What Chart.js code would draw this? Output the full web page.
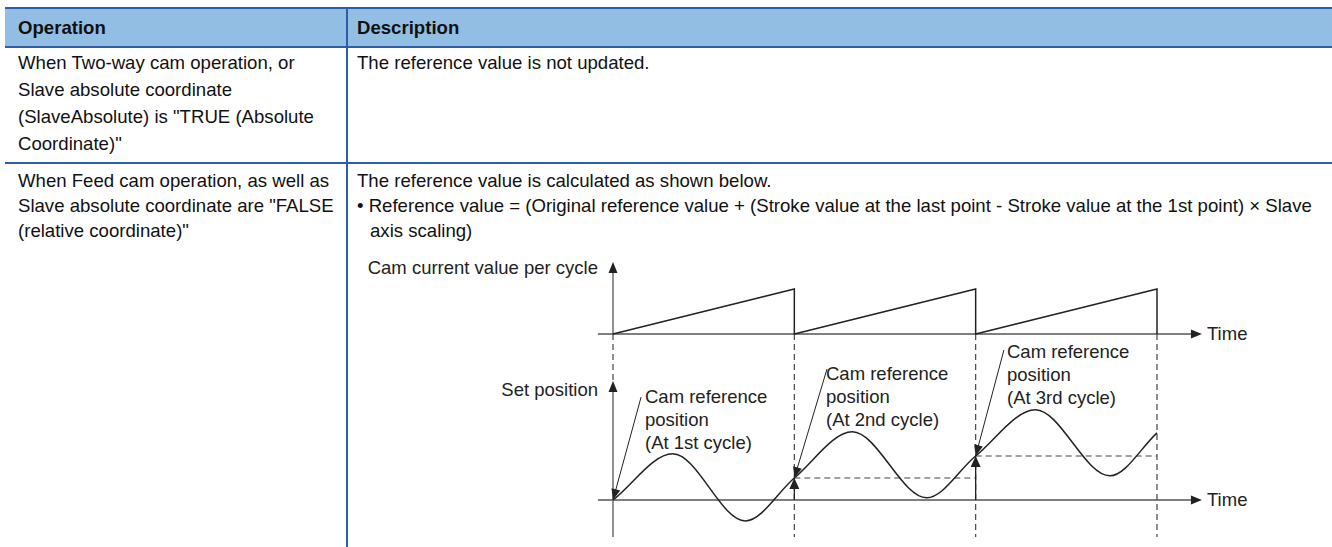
<!DOCTYPE html>
<html>
<head>
<meta charset="utf-8">
<script src="https://cdn.jsdelivr.net/npm/chart.js@4.4.1/dist/chart.umd.min.js"></script>
<style>
body { margin: 0; background: #fff; }
#page { position: relative; width: 1332px; height: 547px; overflow: hidden; font-family: "Liberation Sans", Arial, sans-serif; color: #111; }
.rule { position: absolute; background: #2d5ca8; }
.txt { position: absolute; font-size: 18.6px; white-space: nowrap; }
.head { font-weight: bold; line-height: 37px; top: 9px; }
.lbl { position: absolute; font-size: 18.5px; line-height: 23px; color: #222; white-space: nowrap; }
#diagram { position: absolute; left: 560px; top: 250px; }
</style>
</head>
<body>
<div id="page">
  <div style="position:absolute;left:5px;top:9px;width:1327px;height:37px;background:#92bee3"></div>
  <div class="rule" style="left:5px;top:7px;width:1327px;height:2px"></div>
  <div class="rule" style="left:5px;top:46px;width:1327px;height:2px"></div>
  <div class="rule" style="left:5px;top:162px;width:1327px;height:2px"></div>
  <div class="rule" style="left:346px;top:9px;width:2px;height:538px"></div>

  <div class="txt head" style="left:18px">Operation</div>
  <div class="txt head" style="left:357px">Description</div>

  <div class="txt" style="left:18px;top:49px;line-height:27px">When Two-way cam operation, or<br>Slave absolute coordinate<br>(SlaveAbsolute) is "TRUE (Absolute<br>Coordinate)"</div>
  <div class="txt" style="left:357px;top:49px;line-height:27px">The reference value is not updated.</div>

  <div class="txt" style="left:18px;top:168px;line-height:25px">When Feed cam operation, as well as<br>Slave absolute coordinate are "FALSE<br>(relative coordinate)"</div>
  <div class="txt" style="left:357px;top:168px;line-height:25px">The reference value is calculated as shown below.<br>• Reference value = (Original reference value + (Stroke value at the last point - Stroke value at the 1st point) × Slave<br><span style="padding-left:13px">axis scaling)</span></div>

  <div class="lbl" style="right:734px;top:256px">Cam current value per cycle</div>
  <div class="lbl" style="right:734px;top:378px">Set position</div>
  <div class="lbl" style="left:1207px;top:322px">Time</div>
  <div class="lbl" style="left:1207px;top:488px">Time</div>
  <div class="lbl" style="left:645px;top:385px">Cam reference<br>position<br>(At 1st cycle)</div>
  <div class="lbl" style="left:826px;top:362px">Cam reference<br>position<br>(At 2nd cycle)</div>
  <div class="lbl" style="left:1007px;top:340px">Cam reference<br>position<br>(At 3rd cycle)</div>

  <canvas id="diagram" width="680" height="297"></canvas>
</div>

<script>
// time in cam cycles
const cycleMarks = [0, 1, 2, 3];

// cam current value per cycle (sawtooth, 0..1 of stroke)
const camTime = [0, 1, 1, 2, 2, 3, 3];
const camValue = [0, 1, 0, 1, 0, 1, 0];

// set position, in strokes
const setTime = [0, 0.33, 0.73, 1, 1.32, 1.73, 2, 2.33, 2.74, 3];
const setValue = [0, 2.1, -0.95, 1, 3.1, 0.1, 2, 4.1, 1.1, 3.05];

// cam reference position at start of 2nd and 3rd cycle
const refCycle = [1, 2];
const refValue = [1, 2];

// layout (canvas pixels)
const W = 680, H = 297;
const X0 = 53, XPX = 181.33;
const CAM0 = 84, CAMPX = 45;
const SET0 = 250, SETPX = 22;

const axisLeft = -0.083, axisRight = 3.248;
const camAxisTop = 1.6, setAxisTop = 5.41, setAxisBottom = -1.68;
const labelFrom = [[0.155, 4.68], [1.18, 5.95], [2.156, 6.82]];

function line(ctx, x1, y1, x2, y2, color, width, dash) {
    ctx.save();
    ctx.strokeStyle = color;
    ctx.lineWidth = width;
    ctx.setLineDash(dash || []);
    ctx.beginPath();
    ctx.moveTo(x1, y1);
    ctx.lineTo(x2, y2);
    ctx.stroke();
    ctx.restore();
}

function head(ctx, tx, ty, fx, fy, len, half, color) {
    let a = Math.atan2(ty - fy, tx - fx);
    ctx.save();
    ctx.fillStyle = color;
    ctx.translate(tx, ty);
    ctx.rotate(a);
    ctx.beginPath();
    ctx.moveTo(0, 0);
    ctx.lineTo(-len, -half);
    ctx.lineTo(-len, half);
    ctx.closePath();
    ctx.fill();
    ctx.restore();
}

const diagramPlugin = {
    id: 'diagram',
    beforeDatasetsDraw(chart) {
        const { ctx } = chart;
        const x = chart.scales.x, yc = chart.scales.yCam, ys = chart.scales.ySet;
        const gray = '#555', dark = '#222';

        // dashed cycle markers
        cycleMarks.forEach(c => {
            let bottom = c === 0 ? ys.getPixelForValue(setAxisTop) : ys.getPixelForValue(setAxisBottom);
            line(ctx, x.getPixelForValue(c), yc.getPixelForValue(0), x.getPixelForValue(c), bottom, '#444', 1.2, [6, 4]);
        });

        // upper axes
        let left = x.getPixelForValue(axisLeft), right = x.getPixelForValue(axisRight);
        let cy = yc.getPixelForValue(0), x0 = x.getPixelForValue(0);
        line(ctx, left, cy, right - 8, cy, gray, 1.3);
        head(ctx, right, cy, left, cy, 11, 4.5, dark);
        line(ctx, x0, cy, x0, yc.getPixelForValue(camAxisTop) + 8, gray, 1.3);
        head(ctx, x0, yc.getPixelForValue(camAxisTop), x0, cy, 11, 4.5, dark);

        // lower axes
        let sy = ys.getPixelForValue(0);
        line(ctx, left, sy, right - 8, sy, gray, 1.3);
        head(ctx, right, sy, left, sy, 11, 4.5, dark);
        line(ctx, x0, ys.getPixelForValue(setAxisBottom), x0, ys.getPixelForValue(setAxisTop) + 8, gray, 1.3);
        head(ctx, x0, ys.getPixelForValue(setAxisTop), x0, sy, 11, 4.5, dark);
    },
    afterDatasetsDraw(chart) {
        const { ctx } = chart;
        const x = chart.scales.x, ys = chart.scales.ySet;
        const dark = '#222';

        // reference position up-arrows
        refCycle.forEach((c, i) => {
            let px = x.getPixelForValue(c), py = ys.getPixelForValue(refValue[i]);
            line(ctx, px, ys.getPixelForValue(0), px, py + 8, dark, 1.3);
            head(ctx, px, py, px, ys.getPixelForValue(0), 11, 5, dark);
        });

        // label leaders
        labelFrom.forEach((p, i) => {
            let fx = x.getPixelForValue(p[0]), fy = ys.getPixelForValue(p[1]);
            let tx = x.getPixelForValue(cycleMarks[i]), ty = ys.getPixelForValue(i === 0 ? 0 : refValue[i - 1]);
            let a = Math.atan2(ty - fy, tx - fx);
            line(ctx, fx, fy, tx - Math.cos(a) * 8, ty - Math.sin(a) * 8, dark, 1);
            head(ctx, tx, ty, fx, fy, 11, 4.5, dark);
        });
    }
};

new Chart(document.getElementById('diagram'), {
    type: 'line',
    data: {
        datasets: [
            {
                data: camTime.map((t, i) => ({ x: t, y: camValue[i] })),
                yAxisID: 'yCam',
                borderColor: '#222',
                borderWidth: 1.5,
                tension: 0
            },
            {
                data: setTime.map((t, i) => ({ x: t, y: setValue[i] })),
                yAxisID: 'ySet',
                borderColor: '#222',
                borderWidth: 1.5,
                cubicInterpolationMode: 'monotone'
            },
            ...refCycle.map((c, i) => ({
                data: [{ x: c, y: refValue[i] }, { x: c + 1, y: refValue[i] }],
                yAxisID: 'ySet',
                borderColor: '#444',
                borderWidth: 1.2,
                borderDash: [6, 4]
            }))
        ]
    },
    options: {
        responsive: false,
        animation: false,
        layout: { padding: 0 },
        elements: { point: { radius: 0 } },
        plugins: { legend: { display: false }, tooltip: { enabled: false } },
        scales: {
            x: { type: 'linear', display: false, min: -X0 / XPX, max: (W - X0) / XPX },
            yCam: { type: 'linear', display: false, min: (CAM0 - H) / CAMPX, max: CAM0 / CAMPX },
            ySet: { type: 'linear', display: false, min: (SET0 - H) / SETPX, max: SET0 / SETPX }
        }
    },
    plugins: [diagramPlugin]
});
</script>
</body>
</html>
